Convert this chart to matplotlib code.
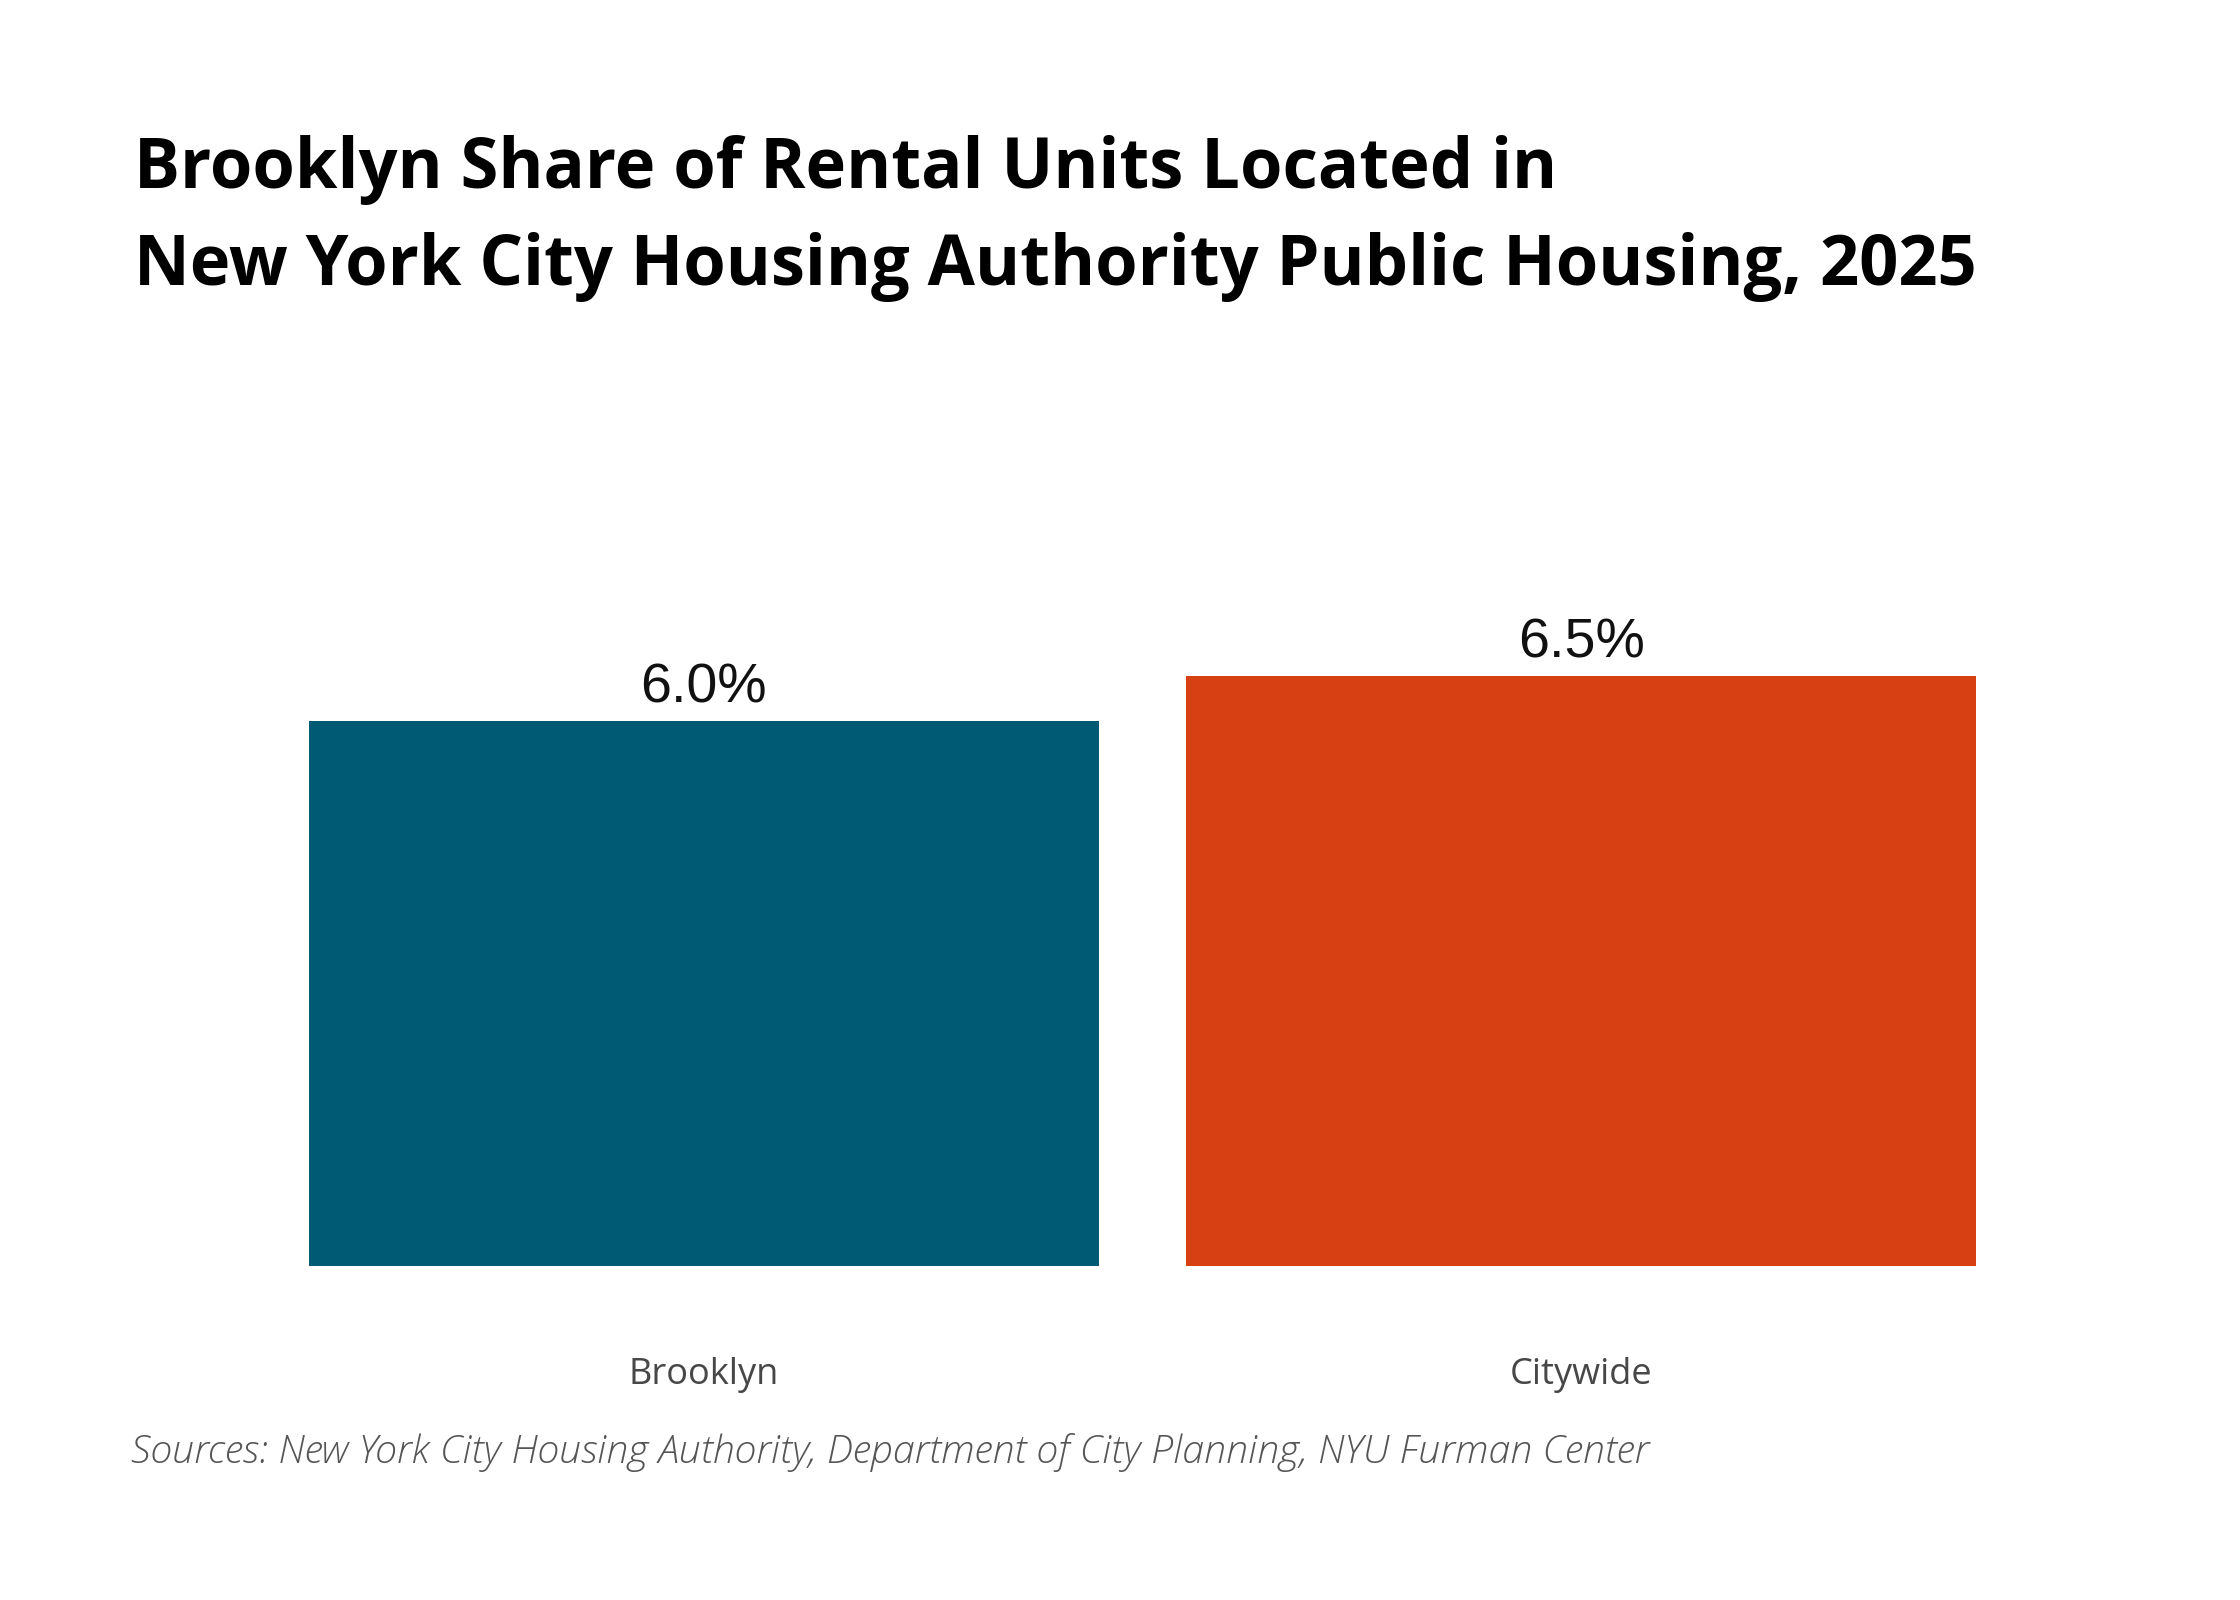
import matplotlib
matplotlib.use("Agg")
import matplotlib.pyplot as plt
from matplotlib.transforms import blended_transform_factory

# Chart data
categories = ["Brooklyn", "Citywide"]
values = [6.0, 6.5]
value_labels = ["6.0%", "6.5%"]
bar_colors = ["#015a74", "#d74013"]

title_lines = ["Brooklyn Share of Rental Units Located in",
               "New York City Housing Authority Public Housing, 2025"]
source = "Sources: New York City Housing Authority, Department of City Planning, NYU Furman Center"

W, H = 2240, 1600
fig = plt.figure(figsize=(W / 200, H / 200), dpi=200)
fig.patch.set_facecolor("white")

# axes placed so the bars line up with the reference
ymax = 8.0
ax = fig.add_axes([309 / W, 1 - 1266 / H, (1976 - 309) / W, 90.77 * ymax / H])
x = list(range(len(categories)))
bars = ax.bar(x, values, width=0.9, color=bar_colors)
ax.set_xlim(-0.45, 1.45)
ax.set_ylim(0, ymax)
ax.axis("off")

for rect, lab in zip(bars, value_labels):
    ax.annotate(lab, (rect.get_x() + rect.get_width() / 2, rect.get_height()),
                xytext=(0, 6.8), textcoords="offset points",
                ha="center", va="baseline", fontsize=20,
                family="Liberation Sans", color="#111111")

# category labels under the bars
tr = blended_transform_factory(ax.transData, fig.transFigure)
for xi, cat in zip(x, categories):
    ax.text(xi, 1 - 1384 / H, cat, transform=tr, ha="center", va="baseline",
            family="Open Sans", fontsize=13, color="#474747")

fig.text(134 / W, 1 - 188 / H, title_lines[0], ha="left", va="baseline",
         fontsize=24.7, family="Open Sans", weight="bold", color="#000000")
fig.text(134 / W, 1 - 285 / H, title_lines[1], ha="left", va="baseline",
         fontsize=24.7, family="Open Sans", weight="bold", color="#000000")
fig.text(131 / W, 1 - 1463 / H, source, ha="left", va="baseline", fontsize=14.2,
         family="Open Sans", style="italic", weight="light", color="#555555")

fig.savefig("out.png", dpi=200, facecolor="white")
